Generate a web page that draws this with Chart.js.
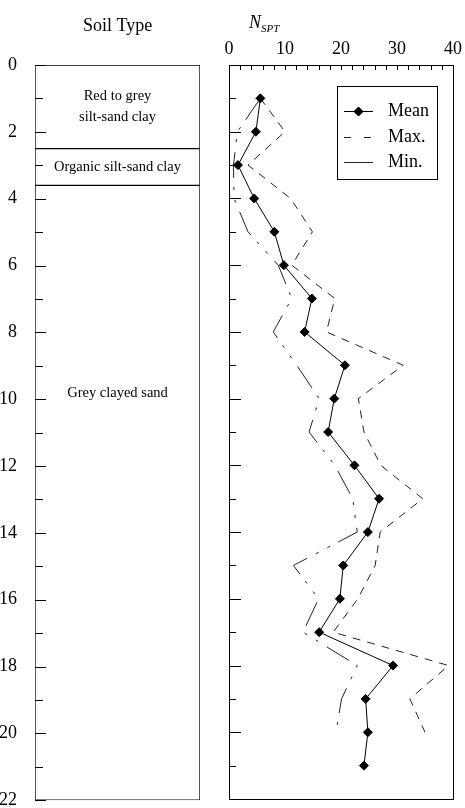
<!DOCTYPE html>
<html>
<head>
<meta charset="utf-8">
<script src="https://cdn.jsdelivr.net/npm/chart.js@4.4.1/dist/chart.umd.min.js"></script>
<style>
body { margin: 0; background: #fff; overflow: hidden; }
#soilBox { position: absolute; left: 0; top: 0; width: 215px; height: 821px; }
#sptBox { position: absolute; left: 215px; top: 0; width: 250px; height: 810px; }
</style>
</head>
<body>
<div id="soilBox"><canvas id="soil"></canvas></div>
<div id="sptBox"><canvas id="spt"></canvas></div>
<script>
// soil layers (depth in m)
const layerTop = [0, 2.5, 3.6];
const layerBottom = [2.5, 3.6, 22];
const layerNames = [['Red to grey', 'silt-sand clay'], ['Organic silt-sand clay'], ['Grey clayed sand']];
const layerLabelDepth = [1.25, 3.06, 9.83];

// N_SPT profile
const meanDepth = [1, 2, 3, 4, 5, 6, 7, 8, 9, 10, 11, 12, 13, 14, 15, 16, 17, 18, 19, 20, 21];
const meanN = [5.6, 4.8, 1.6, 4.5, 8.1, 9.8, 14.8, 13.5, 20.7, 18.8, 17.7, 22.4, 26.8, 24.8, 20.4, 19.8, 16.1, 29.3, 24.4, 24.8, 24.1];
const rangeDepth = [1, 2, 3, 4, 5, 6, 7, 8, 9, 10, 11, 12, 13, 14, 15, 16, 17, 18, 19, 20];
const maxN = [5.6, 10.0, 3.4, 11.0, 14.9, 11.2, 18.9, 17.4, 31.1, 23.1, 24.1, 27.1, 34.6, 27.0, 26.1, 23.0, 18.6, 39.2, 32.3, 35.0];
const minN = [5.6, 1.5, 0.8, 0.9, 3.4, 8.8, 11.2, 7.9, 12.1, 16.1, 14.3, 18.9, 22.1, 22.9, 11.5, 16.0, 13.2, 22.9, 20.1, 19.1];

const serif = '"Liberation Serif", "Times New Roman", serif';
Chart.defaults.font.family = serif;
Chart.defaults.color = '#000';

function toPoints(xs, ys) {
    return xs.map((v, i) => ({ x: v, y: ys[i] }));
}

// inward depth ticks, long on even values
function drawDepthTicks(chart, longLen, shortLen) {
    const ctx = chart.ctx;
    const y = chart.scales.y;
    const left = chart.chartArea.left;
    ctx.save();
    ctx.strokeStyle = '#000';
    ctx.lineWidth = 1;
    y.ticks.forEach(t => {
        const py = Math.round(y.getPixelForValue(t.value)) + 0.5;
        const len = t.value % 2 === 0 ? longLen : shortLen;
        ctx.beginPath();
        ctx.moveTo(left, py);
        ctx.lineTo(left + len, py);
        ctx.stroke();
    });
    ctx.restore();
}

const soilPlugin = {
    id: 'soilText',
    afterDatasetsDraw(chart) {
        const ctx = chart.ctx;
        const y = chart.scales.y;
        const area = chart.chartArea;
        const cx = (area.left + area.right) / 2;
        drawDepthTicks(chart, 11, 8);
        ctx.save();
        ctx.fillStyle = '#000';
        ctx.textAlign = 'center';
        ctx.textBaseline = 'middle';
        ctx.font = '14.5px ' + serif;
        layerNames.forEach((lines, i) => {
            const mid = y.getPixelForValue(layerLabelDepth[i]);
            lines.forEach((txt, j) => {
                ctx.fillText(txt, cx, mid + (j - (lines.length - 1) / 2) * 21);
            });
        });
        ctx.font = '18px ' + serif;
        ctx.textBaseline = 'alphabetic';
        ctx.fillText('Soil Type', cx, 31);
        ctx.restore();
    }
};

new Chart(document.getElementById('soil'), {
    type: 'bar',
    data: {
        labels: ['Soil'],
        datasets: layerTop.map((t, i) => ({
            label: layerNames[i].join(' '),
            data: [[t, layerBottom[i]]],
            backgroundColor: '#fff',
            borderColor: '#000',
            borderWidth: 1,
            borderSkipped: false,
            barPercentage: 1,
            categoryPercentage: 1
        }))
    },
    options: {
        responsive: true,
        maintainAspectRatio: false,
        animation: false,
        layout: { padding: { top: 65, right: 15, bottom: 0, left: 0 } },
        plugins: { legend: { display: false }, tooltip: { enabled: false } },
        scales: {
            x: { display: false, stacked: true },
            y: {
                min: 0, max: 22, reverse: true,
                grid: { display: false },
                border: { display: false },
                ticks: {
                    stepSize: 1, autoSkip: false, padding: 10,
                    font: { size: 18 },
                    callback: v => (v % 2 === 0 ? v : '')
                },
                afterFit: s => { s.width = 35; }
            }
        }
    },
    plugins: [soilPlugin]
});

const sptPlugin = {
    id: 'sptFrame',
    afterDatasetsDraw(chart) {
        const ctx = chart.ctx;
        const area = chart.chartArea;
        const x = chart.scales.x;
        ctx.save();
        ctx.strokeStyle = '#000';
        ctx.lineWidth = 1;
        ctx.setLineDash([]);
        ctx.strokeRect(Math.round(area.left) + 0.5, Math.round(area.top) + 0.5,
            Math.round(area.right - area.left), Math.round(area.bottom - area.top));
        x.ticks.forEach(t => {
            const px = Math.round(x.getPixelForValue(t.value)) + 0.5;
            ctx.beginPath();
            ctx.moveTo(px, area.top);
            ctx.lineTo(px, area.top + 5);
            ctx.stroke();
        });
        ctx.restore();
        drawDepthTicks(chart, 12, 7);

        // title N_SPT
        ctx.save();
        ctx.fillStyle = '#000';
        ctx.textBaseline = 'alphabetic';
        ctx.textAlign = 'left';
        ctx.font = 'italic 18px ' + serif;
        ctx.fillText('N', 34, 28);
        const nw = ctx.measureText('N').width;
        ctx.font = 'italic 11px ' + serif;
        ctx.fillText('SPT', 34 + nw, 32);

        // legend
        ctx.lineWidth = 1;
        ctx.strokeRect(122.5, 86.5, 100, 93);
        const rows = [111.5, 137.5, 162.5];
        chart.data.datasets.forEach((ds, i) => {
            const ry = rows[i];
            ctx.strokeStyle = ds.borderColor;
            ctx.setLineDash(i === 1 ? [7, 13] : []);
            ctx.beginPath();
            ctx.moveTo(129, ry);
            ctx.lineTo(158, ry);
            ctx.stroke();
            ctx.setLineDash([]);
            if (ds.pointRadius > 0) {
                Chart.helpers.drawPoint(ctx, { pointStyle: ds.pointStyle, radius: ds.pointRadius, borderWidth: 1 }, 143.5, ry);
                ctx.fillStyle = ds.pointBackgroundColor;
                ctx.fill();
            }
            ctx.fillStyle = '#000';
            ctx.font = '18px ' + serif;
            ctx.textBaseline = 'middle';
            ctx.fillText(ds.label, 173, ry);
        });
        ctx.restore();
    }
};

new Chart(document.getElementById('spt'), {
    type: 'scatter',
    data: {
        datasets: [{
            label: 'Mean',
            data: toPoints(meanN, meanDepth),
            showLine: true,
            borderColor: '#000',
            borderWidth: 1,
            pointStyle: 'rectRot',
            pointRadius: 4.5,
            pointBackgroundColor: '#000',
            pointBorderColor: '#000'
        }, {
            label: 'Max.',
            data: toPoints(maxN, rangeDepth),
            showLine: true,
            borderColor: '#222',
            borderWidth: 1,
            borderDash: [8, 7],
            pointRadius: 0
        }, {
            label: 'Min.',
            data: toPoints(minN, rangeDepth),
            showLine: true,
            borderColor: '#222',
            borderWidth: 1,
            borderDash: [26, 9, 3, 10, 3, 10],
            pointRadius: 0
        }]
    },
    options: {
        responsive: true,
        maintainAspectRatio: false,
        animation: false,
        layout: { padding: { top: 0, right: 12, bottom: 11, left: 14 } },
        plugins: { legend: { display: false }, tooltip: { enabled: false } },
        scales: {
            x: {
                type: 'linear', position: 'top', min: 0, max: 40,
                grid: { display: false },
                border: { display: false },
                ticks: {
                    stepSize: 2, autoSkip: false, maxRotation: 0, padding: -3,
                    font: { size: 18 },
                    callback: v => (v % 10 === 0 ? v : '')
                },
                afterFit: s => { s.height = 65; }
            },
            y: {
                type: 'linear', min: 0, max: 22, reverse: true,
                grid: { display: false },
                border: { display: false },
                ticks: { display: false, stepSize: 1, autoSkip: false },
                afterFit: s => { s.width = 0; }
            }
        }
    },
    plugins: [sptPlugin]
});
</script>
</body>
</html>
